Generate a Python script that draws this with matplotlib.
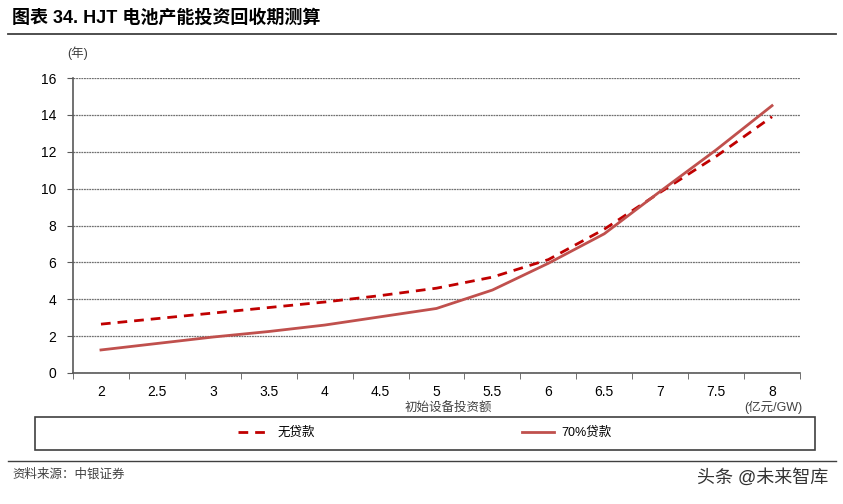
import matplotlib.pyplot as plt
from matplotlib.lines import Line2D
from matplotlib.patches import Rectangle
import numpy as np

plt.rcParams['font.family'] = ['Liberation Sans', 'Noto Sans CJK SC', 'DejaVu Sans']

# --- 数据 ---
invest = ['2', '2.5', '3', '3.5', '4', '4.5', '5', '5.5', '6', '6.5', '7', '7.5', '8']
no_loan = [2.65, 2.95, 3.25, 3.55, 3.85, 4.2, 4.6, 5.2, 6.15, 7.8, 9.8, 11.75, 13.9]
loan_70 = [1.25, 1.6, 1.95, 2.25, 2.6, 3.05, 3.5, 4.5, 5.95, 7.55, 9.85, 12.1, 14.5]
yticks = [0, 2, 4, 6, 8, 10, 12, 14, 16]

title = '图表 34. HJT 电池产能投资回收期测算'
series_names = ['无贷款', '70%贷款']

W, H = 843, 504
fig = plt.figure(figsize=(W / 100, H / 100), dpi=100)
ax = fig.add_axes([73 / W, 1 - 373 / H, (800 - 73) / W, (373 - 78) / H])

x = np.arange(len(invest))
ax.plot(x, no_loan, color='#C00000', lw=2.0, ls=(0, (3.5, 2.5)), zorder=3)
ax.plot(x, loan_70, color='#C0504D', lw=2.0, zorder=3)

ax.set_xlim(-0.5, len(invest) - 0.5)
ax.set_ylim(0, 16)
ax.set_yticks(yticks)
ax.set_xticks(x)
ax.set_xticklabels(invest)
ax.set_xticks(np.arange(len(invest) + 1) - 0.5, minor=True)
ax.tick_params(axis='x', which='major', length=0, pad=9, labelsize=10)
ax.tick_params(axis='x', which='minor', length=4, color='#595959', direction='out')
ax.tick_params(axis='y', length=4, color='#595959', direction='out', labelsize=10, pad=8)

ax.grid(axis='y', color='#707070', lw=0.9, ls=(0, (1.5, 0.6)))
ax.set_axisbelow(True)
for s in ['top', 'right']:
    ax.spines[s].set_visible(False)
for s in ['left', 'bottom']:
    ax.spines[s].set_color('#595959')
    ax.spines[s].set_linewidth(1.2)

# 标题和横线
fig.text(12 / W, 1 - 18 / H, title, fontsize=13, fontweight='bold', va='center', ha='left')
fig.add_artist(Line2D([8 / W, 836 / W], [1 - 34 / H, 1 - 34 / H], color='#404040', lw=1.3))
fig.text(67 / W, 1 - 53 / H, '(年)', fontsize=9, va='center', ha='left', color='#404040')
fig.text(448 / W, 1 - 408 / H, '初始设备投资额', fontsize=9, va='center', ha='center', color='#404040')
fig.text(773 / W, 1 - 407 / H, '(亿元/GW)', fontsize=9, va='center', ha='center', color='#404040')

# 图例
fig.add_artist(Rectangle((35 / W, 1 - 450 / H), 780 / W, 33 / H, fill=False,
                         edgecolor='#404040', lw=1.2, transform=fig.transFigure))
handles = [Line2D([], [], color='#C00000', lw=2.0, ls=(0, (3.5, 2.5))),
           Line2D([], [], color='#C0504D', lw=2.0)]
fig.legend(handles, series_names, loc='center', bbox_to_anchor=(425 / W, 1 - 433 / H),
           ncol=2, frameon=False, fontsize=9, handlelength=2.6, columnspacing=16.5,
           handletextpad=0.6)

fig.add_artist(Line2D([8 / W, 836 / W], [1 - 461 / H, 1 - 461 / H], color='#404040', lw=1.0))
fig.text(12 / W, 1 - 475 / H, '资料来源：中银证券', fontsize=9, style='italic',
         va='center', ha='left', color='#404040')
fig.text(828 / W, 1 - 478 / H, '头条 @未来智库', fontsize=13, va='center', ha='right', color='#333333')

fig.savefig('out.png', dpi=100)
